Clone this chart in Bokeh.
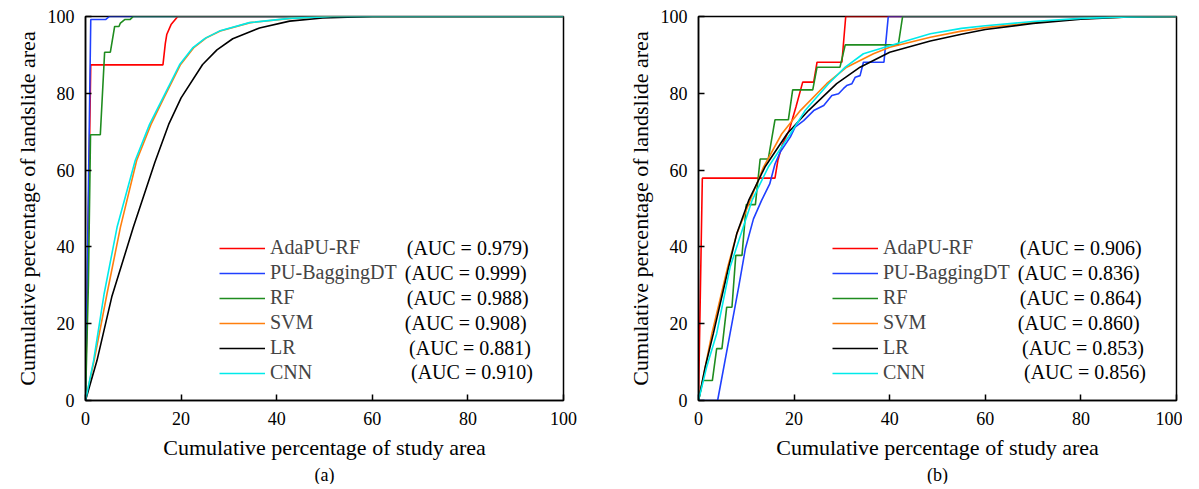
from bokeh.plotting import figure
from bokeh.layouts import row
from bokeh.models import Range1d, FixedTicker, Legend, LegendItem, Label, Title
from bokeh.embed import file_html
from bokeh.resources import INLINE

FONT = "Liberation Serif"

models = ["AdaPU-RF", "PU-BaggingDT", "RF", "SVM", "LR", "CNN"]
colors = ["#ff0000", "#2040ff", "#1f8c1f", "#ff7f0e", "#000000", "#00eaea"]
auc_a = ["0.979", "0.999", "0.988", "0.908", "0.881", "0.910"]
auc_b = ["0.906", "0.836", "0.864", "0.860", "0.853", "0.856"]
ticks = [0, 20, 40, 60, 80, 100]
x_label = "Cumulative percentage of study area"
y_label = "Cumulative percentage of landslide area"
panel_tags = ["(a)", "(b)"]

# ---------------- panel (a) ----------------
a_adapu_x = [0, 1.1, 16.2, 16.7, 17.0, 17.9, 19.3, 100]
a_adapu_y = [0, 87.4, 87.4, 93.0, 95.3, 97.9, 100, 100]
a_pu_x = [0, 1.1, 4.2, 5.0, 100]
a_pu_y = [0, 99.2, 99.2, 100, 100]
a_rf_x = [0, 0.6, 1.05, 3.1, 4.0, 5.2, 6.1, 7.0, 7.3, 8.2, 9.3, 10.0, 100]
a_rf_y = [0, 30, 69.2, 69.2, 90.7, 90.7, 97.4, 97.4, 98.3, 99.2, 99.2, 100, 100]
a_svm_x = [0, 1.8, 4.5, 7.3, 10.7, 13.7, 16.4, 19.9, 22.6, 25.2, 28.2, 34.5, 43.0, 52.0, 100]
a_svm_y = [0, 10.4, 27.8, 45.1, 62.5, 71.9, 78.8, 87.5, 91.8, 94.4, 96.2, 98.4, 99.5, 100, 100]
a_lr_x = [0, 2.4, 5.5, 10.0, 14.5, 17.4, 20.0, 24.5, 27.5, 30.8, 36.4, 42.7, 49.6, 60.0, 100]
a_lr_y = [0, 10.4, 27.0, 45.1, 62.0, 71.9, 78.8, 87.5, 91.3, 94.2, 97.0, 98.8, 99.6, 100, 100]
a_cnn_x = [0, 1.7, 3.9, 6.6, 10.4, 13.4, 16.2, 19.7, 22.4, 25.0, 28.0, 34.3, 42.7, 51.7, 100]
a_cnn_y = [0, 10.4, 27.8, 45.1, 62.5, 71.9, 78.8, 87.5, 91.8, 94.3, 96.2, 98.4, 99.5, 100, 100]

# ---------------- panel (b) ----------------
b_adapu_x = [0, 0.8, 16.0, 16.6, 17.5, 19.0, 20.4, 21.8, 24.1, 24.8, 30.0, 30.8, 100]
b_adapu_y = [0, 57.9, 57.9, 62.5, 66.5, 70.5, 76.5, 82.9, 82.9, 88.1, 88.1, 100, 100]
b_pu_x = [0, 4.0, 6.6, 8.4, 9.8, 11.5, 13.2, 14.9, 16.0, 17.1, 19.2, 20.2, 22.0, 24.1,
          26.2, 27.9, 29.3, 30.3, 31.0, 32.1, 32.8, 33.8, 34.5, 38.8, 39.7, 100]
b_pu_y = [0, 0, 17.4, 29.5, 39.5, 47.3, 52.1, 56.4, 61.6, 64.7, 68.6, 71.2, 72.9, 75.5,
          76.8, 79.4, 79.9, 81.2, 82.0, 82.5, 84.2, 84.6, 88.1, 88.1, 100, 100]
b_rf_x = [0, 0.9, 2.9, 3.8, 4.9, 5.9, 7.0, 7.8, 9.1, 10.0, 11.9, 12.9, 14.6, 16.0, 18.8,
          19.7, 23.9, 24.8, 29.6, 30.7, 41.8, 42.7, 100]
b_rf_y = [0, 5.2, 5.2, 13.5, 13.5, 24.3, 24.3, 37.8, 37.8, 51.0, 51.0, 62.9, 62.9, 73.1,
          73.1, 80.9, 80.9, 86.8, 86.8, 92.6, 92.6, 100, 100]
b_svm_x = [0, 1.4, 2.8, 6.1, 8.0, 10.8, 13.6, 17.4, 21.3, 26.8, 31.0, 36.6, 40.0, 48.5,
           55, 60, 70, 80, 90, 100]
b_svm_y = [0, 8.7, 17.4, 34.7, 43.4, 52.1, 60.8, 69.4, 75.5, 82.5, 86.8, 90.3, 92.0, 94.6,
           96.2, 97.1, 98.4, 99.4, 99.9, 100]
b_lr_x = [0, 1.4, 3.1, 6.3, 8.0, 10.5, 13.9, 18.5, 23.0, 28.9, 33.8, 40.0, 48.5,
          55, 60, 70, 80, 90, 100]
b_lr_y = [0, 8.7, 17.4, 34.7, 43.4, 52.1, 60.8, 69.4, 75.5, 82.5, 86.8, 90.7, 93.6,
          95.4, 96.6, 98.2, 99.3, 99.9, 100]
b_cnn_x = [0, 1.7, 3.8, 6.6, 8.9, 11.2, 14.6, 19.2, 22.3, 27.2, 30.7, 34.5, 40.0, 48.5,
           55, 60, 70, 80, 90, 100]
b_cnn_y = [0, 8.7, 17.4, 34.7, 43.4, 52.1, 60.8, 69.4, 75.5, 82.5, 86.8, 90.3, 92.4, 95.5,
           96.9, 97.6, 98.7, 99.5, 99.9, 100]

panel_a = [(a_adapu_x, a_adapu_y), (a_pu_x, a_pu_y), (a_rf_x, a_rf_y),
           (a_svm_x, a_svm_y), (a_lr_x, a_lr_y), (a_cnn_x, a_cnn_y)]
panel_b = [(b_adapu_x, b_adapu_y), (b_pu_x, b_pu_y), (b_rf_x, b_rf_y),
           (b_svm_x, b_svm_y), (b_lr_x, b_lr_y), (b_cnn_x, b_cnn_y)]

# positions of the "(AUC = ...)" column (data units) for each legend row
auc_x = [67.2, 66.8, 67.2, 66.8, 67.7, 68.1]
auc_y = [39.8, 33.3, 26.8, 20.3, 13.8, 7.3]


def make_panel(series, aucs, tag, border_left, border_right):
    p = figure(output_backend="svg", toolbar_location=None,
               x_range=Range1d(0, 100), y_range=Range1d(0, 100),
               frame_width=478, frame_height=384,
               min_border_left=border_left, min_border_right=border_right,
               min_border_top=16, min_border_bottom=4,
               background_fill_color="white", border_fill_color="white")
    p.outline_line_color = "black"
    p.outline_line_width = 1.5
    p.outline_line_alpha = 1
    p.grid.visible = False
    for ax in (p.xaxis, p.yaxis):
        ax.ticker = FixedTicker(ticks=ticks)
        ax.major_tick_in = 6
        ax.major_tick_out = 0
        ax.minor_tick_in = 0
        ax.minor_tick_out = 0
        ax.axis_line_width = 1.5
        ax.axis_line_color = "black"
        ax.major_tick_line_width = 1.5
        ax.major_tick_line_color = "black"
        ax.major_label_text_font = FONT
        ax.major_label_text_font_size = "18px"
        ax.major_label_text_color = "black"
        ax.axis_label_text_font = FONT
        ax.axis_label_text_font_size = "22px"
        ax.axis_label_text_font_style = "normal"
        ax.axis_label_text_color = "black"
    p.xaxis.axis_label = x_label
    p.yaxis.axis_label = y_label
    p.xaxis.major_label_standoff = 11
    p.yaxis.major_label_standoff = 11
    p.xaxis.axis_label_standoff = 7
    p.yaxis.axis_label_standoff = 5

    items = []
    for (xs, ys), name, col in zip(series, models, colors):
        r = p.line(xs, ys, line_color=col, line_width=1.6)
        items.append(LegendItem(label=name, renderers=[r]))
    leg = Legend(items=items, location=(134, 16),
                 label_text_font=FONT, label_text_font_size="20px",
                 glyph_width=46, glyph_height=20, label_height=20,
                 spacing=2, padding=0, margin=0, label_standoff=5,
                 border_line_color=None, background_fill_alpha=0)
    p.add_layout(leg)
    for ax_, ay_, a in zip(auc_x, auc_y, aucs):
        p.add_layout(Label(x=ax_, y=ay_, text="(AUC = %s)" % a,
                           text_font=FONT, text_font_size="20px",
                           text_baseline="middle", text_color="black"))
    p.add_layout(Title(text=tag, align="center", text_font=FONT,
                       text_font_size="18px", text_font_style="normal",
                       text_color="black", standoff=0), "below")
    return p


pa = make_panel(panel_a, auc_a, panel_tags[0], 85, 55)
pb = make_panel(panel_b, auc_b, panel_tags[1], 80, 6)
layout = row(pa, pb, spacing=0)

open("out.html", "w").write(file_html(layout, INLINE))
